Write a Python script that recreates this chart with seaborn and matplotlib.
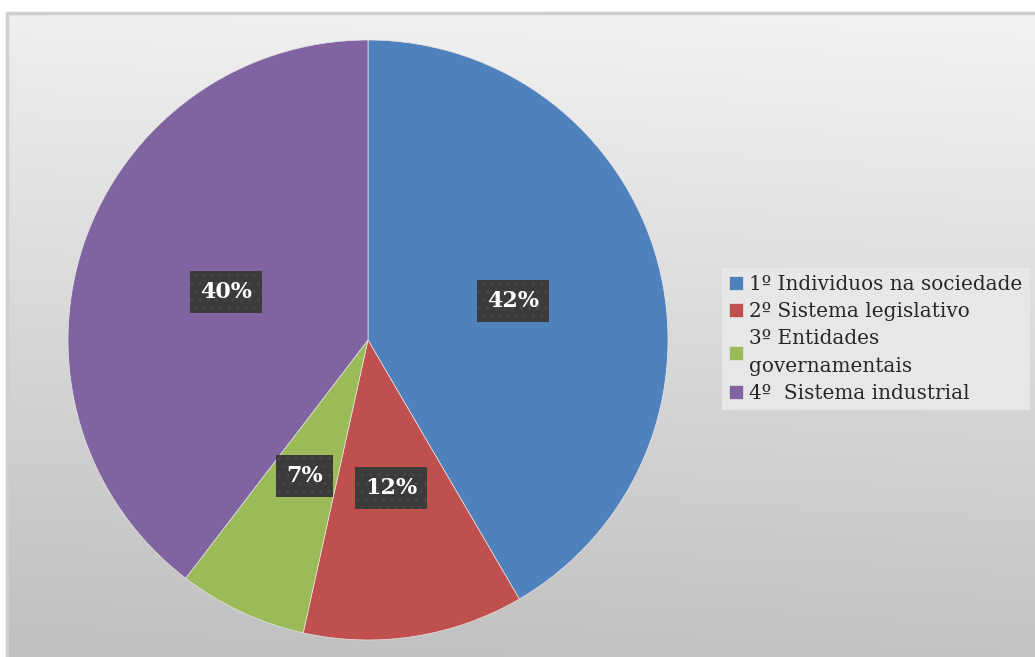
import numpy as np
import matplotlib
matplotlib.use("Agg")
import matplotlib.pyplot as plt
import seaborn as sns

# Data
categories = ["1º Individuos na sociedade", "2º Sistema legislativo",
              "3º Entidades\ngovernamentais", "4º  Sistema industrial"]
values = [42, 12, 7, 40]
labels = ["42%", "12%", "7%", "40%"]
colors = ["#4f81bd", "#c0504d", "#9bbb59", "#8064a2"]

sns.set_theme(style="white")
plt.rcParams["font.family"] = ["DejaVu Serif"]

W, H = 1035, 657
fig = plt.figure(figsize=(W / 100, H / 100), dpi=100)
fig.patch.set_facecolor("white")

# Chart area background: soft vertical grey gradient with a thin frame
bg = fig.add_axes([7 / W, 0, 1 - 7 / W, (H - 13) / H], zorder=0)
ny, nx = 200, 200
ty = np.linspace(0, 1, ny)[:, None]
tx = np.linspace(0, 1, nx)[None, :]
val = (243 - 52 * (0.92 * ty + 0.08 * (1 - tx))) / 255.0
img = np.dstack([val, val, val])
bg.imshow(img, aspect="auto", extent=[0, 1, 0, 1], origin="upper")
bg.set_xlim(0, 1)
bg.set_ylim(0, 1)
bg.axis("off")
bg.plot([0, 0], [0, 1], color="#cfcfcf", lw=2.5, transform=bg.transAxes, clip_on=False)
bg.plot([0, 1.01], [1, 1], color="#cfcfcf", lw=2.5, transform=bg.transAxes, clip_on=False)

# Pie
cx, cy, r = 368, 340, 300
ax = fig.add_axes([(cx - r) / W, (H - cy - r) / H, 2 * r / W, 2 * r / H], zorder=1)
wedges, _ = ax.pie(values, colors=colors, startangle=90, counterclock=False,
                   wedgeprops=dict(linewidth=0.5, edgecolor="#e6e6e6"))
ax.set_xlim(-1.0, 1.0)
ax.set_ylim(-1.0, 1.0)
ax.set_aspect("equal")
ax.axis("off")

total = float(sum(values))
ang = 90.0
for v, lab in zip(values, labels):
    span = 360.0 * v / total
    mid = np.deg2rad(ang - span / 2)
    ang -= span
    ax.text(0.5 * np.cos(mid), 0.5 * np.sin(mid), lab, ha="center", va="center",
            color="white", fontsize=16, fontweight="bold", family="DejaVu Serif",
            bbox=dict(boxstyle="square,pad=0.45", facecolor="#3b3b3b",
                      edgecolor="#464646", linewidth=0, hatch=".."))

leg = fig.legend(wedges, categories, loc="center left",
                 bbox_to_anchor=(722 / W, (H - 339) / H),
                 prop=dict(family="DejaVu Serif", size=14.4),
                 frameon=True, fancybox=False, framealpha=1.0,
                 facecolor="#e7e7e7", edgecolor="none",
                 handlelength=0.72, handleheight=0.72, handletextpad=0.3,
                 labelspacing=0.4, borderpad=0.35, borderaxespad=0)
for t in leg.get_texts():
    t.set_linespacing(1.58)

fig.savefig("out.png", dpi=100)
